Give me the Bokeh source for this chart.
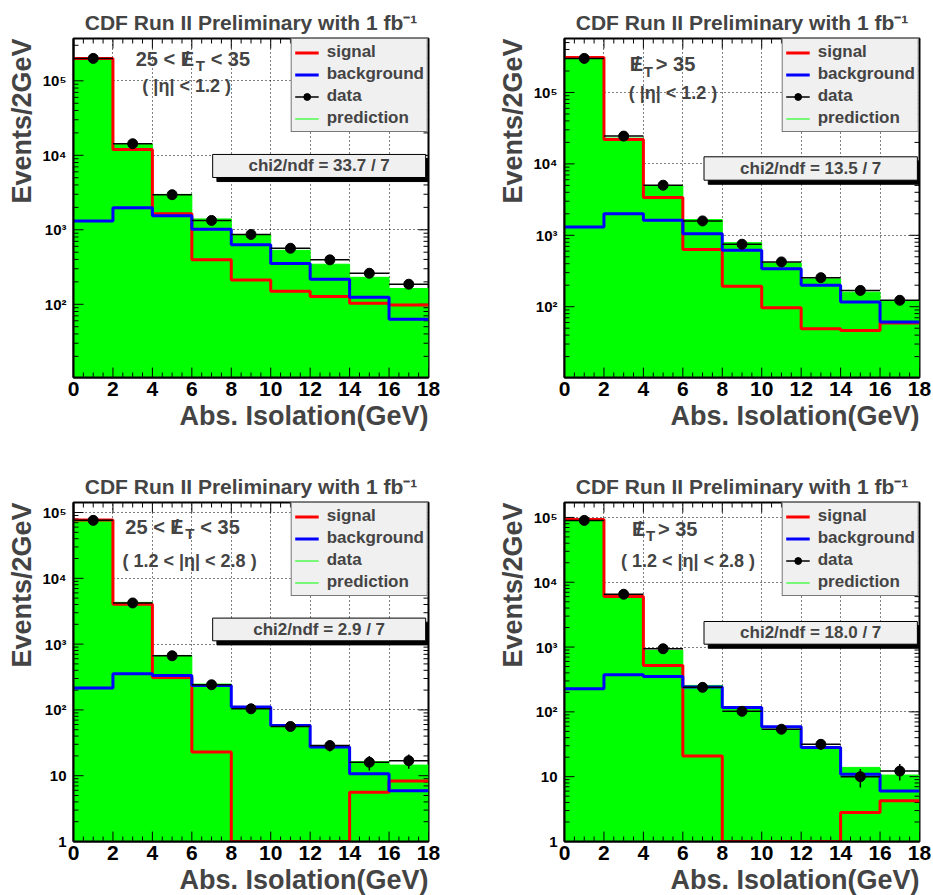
import numpy as np
from bokeh.plotting import figure
from bokeh.models import (LogTicker, SingleIntervalTicker, CustomJSTickFormatter,
                          Legend, LegendItem, Label, Title, Range1d)
from bokeh.layouts import gridplot
from bokeh.embed import file_html
from bokeh.resources import INLINE

# ---------------- data ----------------
bin_left = [0, 2, 4, 6, 8, 10, 12, 14, 16]
bin_width = 2
x_ticks = [0, 2, 4, 6, 8, 10, 12, 14, 16, 18]

# panel 1 : 25 < MET < 35, |eta| < 1.2
sig1 = [2.0e5, 1.2e4, 1640, 395, 212, 150, 127, 103, 98]
bkg1 = [1310, 1980, 1540, 1020, 630, 352, 217, 124, 63]
pred1 = [2.0e5, 1.41e4, 2990, 1400, 860, 530, 345, 230, 163]
data1 = [2.0e5, 1.43e4, 2960, 1335, 866, 565, 395, 261, 186]

# panel 2 : MET > 35, |eta| < 1.2
sig2 = [3.1e5, 2.19e4, 3380, 630, 193, 97, 49, 46.5, 59]
bkg2 = [1310, 2010, 1625, 1050, 617, 341, 199, 116, 61]
pred2 = [3.1e5, 2.3e4, 4900, 1660, 789, 410, 245, 160, 118]
data2 = [3.0e5, 2.45e4, 5030, 1590, 750, 424, 255, 169, 123]

# panel 3 : 25 < MET < 35, 1.2 < |eta| < 2.8
sig3 = [7.7e4, 4030, 312, 23, 0, 0, 0, 5.6, 8.3]
bkg3 = [215, 354, 334, 235, 111, 58, 27.4, 10.7, 5.9]
pred3 = [7.74e4, 4310, 673, 247, 106, 56, 27.7, 16.3, 14.5]
data3 = [7.6e4, 4220, 665, 241, 104, 56, 28.7, 16.0, 16.9]

# panel 4 : MET > 35, 1.2 < |eta| < 2.8
sig4 = [9.3e4, 6010, 521, 20.9, 0, 0, 0, 2.8, 4.25]
bkg4 = [227, 374, 352, 241, 117, 58.7, 28.2, 10.9, 6.0]
pred4 = [9.0e4, 6220, 889, 256, 113, 54, 27.9, 13.9, 10.6]
data4 = [9.0e4, 6530, 942, 239, 102, 54, 31.6, 10, 12.2]

chi2_texts = ["chi2/ndf = 33.7 / 7", "chi2/ndf = 13.5 / 7",
              "chi2/ndf = 2.9 / 7", "chi2/ndf = 18.0 / 7"]
eta_texts = ["( |η| < 1.2 )", "( |η| < 1.2 )",
             "( 1.2 < |η| < 2.8 )", "( 1.2 < |η| < 2.8 )"]
met_low = ["25 < E", "E", "25 < E", "E"]
met_high = ["< 35", "> 35", "< 35", "> 35"]
legend_labels = ["signal", "background", "data", "prediction"]
title_text = "CDF Run II Preliminary with 1 fb⁻¹"
x_title = "Abs. Isolation(GeV)"
y_title = "Events/2GeV"

# ---------------- style ----------------
FONT = "Liberation Sans"
GREEN = "#00ff00"
RED = "#ff0000"
BLUE = "#0000ff"
BOXFILL = "#f0f0f0"
X_MIN, X_MAX = 0, 18
FRAME_W, FRAME_H = 355, 339
TICK_MAJOR, TICK_MINOR = 10, 5

log_fmt = CustomJSTickFormatter(code="""
const e = Math.round(Math.log10(tick));
const sup = {'0':'\u2070','1':'\u00b9','2':'\u00b2','3':'\u00b3','4':'\u2074',
             '5':'\u2075','6':'\u2076','7':'\u2077','8':'\u2078','9':'\u2079'};
if (e == 0) return '1';
if (e == 1) return '10';
return '10' + String(e).split('').map(c => sup[c]).join('');
""")


def draw_inner_ticks(p, ymin, ymax):
    """ROOT-style ticks pointing into the frame on all four sides."""
    lo, hi = np.log10(ymin), np.log10(ymax)
    xspan = X_MAX - X_MIN
    x0, x1, y0, y1 = [], [], [], []
    majors = [float(t) for t in x_ticks]
    minors = [float(v) for v in np.arange(X_MIN, X_MAX + 1e-9, 0.5)
              if float(v) not in majors]
    for xs, ln in ((majors, TICK_MAJOR), (minors, TICK_MINOR)):
        f = 10 ** (ln / FRAME_H * (hi - lo))
        for xv in xs:
            x0 += [xv, xv]
            x1 += [xv, xv]
            y0 += [ymin, ymax]
            y1 += [ymin * f, ymax / f]
    dec = [10.0 ** n for n in range(int(np.ceil(lo - 1e-9)), int(np.floor(hi + 1e-9)) + 1)]
    minor_y = []
    for n in range(int(np.floor(lo)), int(np.floor(hi)) + 1):
        for k in range(2, 10):
            v = k * 10.0 ** n
            if ymin < v < ymax:
                minor_y.append(v)
    for ys, ln in ((dec, TICK_MAJOR), (minor_y, TICK_MINOR)):
        dx = ln / FRAME_W * xspan
        for yv in ys:
            x0 += [X_MIN, X_MAX]
            x1 += [X_MIN + dx, X_MAX - dx]
            y0 += [yv, yv]
            y1 += [yv, yv]
    p.segment(x0=x0, x1=x1, y0=y0, y1=y1, line_color="black", line_width=1)


def make_panel(idx, sig, bkg, pred, data, ymin, ymax, geom, pos):
    width, height, bl, br, bt, bb = geom
    p = figure(width=width, height=height, y_axis_type="log",
               x_range=Range1d(X_MIN, X_MAX), y_range=Range1d(ymin, ymax),
               output_backend="svg", toolbar_location=None,
               min_border_left=bl, min_border_right=br,
               min_border_top=bt, min_border_bottom=bb,
               title=title_text)
    p.title.align = "center"
    p.title.text_font = FONT
    p.title.text_font_style = "bold"
    p.title.text_font_size = "21px"
    p.title.standoff = 9
    p.background_fill_color = "white"
    p.border_fill_color = "white"
    p.outline_line_color = "black"
    p.outline_line_width = 2

    lo, hi = np.log10(ymin), np.log10(ymax)

    def fxd(f):
        return float(X_MIN + f * (X_MAX - X_MIN))

    def fyd(f):
        return float(10 ** (lo + f * (hi - lo)))

    left = np.array(bin_left, dtype=float)
    right = left + bin_width
    centers = left + bin_width / 2
    edges = np.append(left, right[-1])

    def stepy(v):
        v = np.maximum(np.array(v, dtype=float), ymin)
        return np.append(v, v[-1])

    p.varea_step(x=edges, y1=np.full(len(edges), float(ymin)), y2=stepy(pred),
                 step_mode="after", fill_color=GREEN)
    r_pred = p.step(x=edges, y=stepy(pred), mode="after",
                    line_color=GREEN, line_width=1)
    draw_inner_ticks(p, ymin, ymax)
    r_sig = p.step(x=edges, y=stepy(sig), mode="after",
                   line_color=RED, line_width=3)
    r_bkg = p.step(x=edges, y=stepy(bkg), mode="after",
                   line_color=BLUE, line_width=3)
    d = np.array(data, dtype=float)
    err = np.sqrt(d)
    r_dh = p.segment(x0=left, x1=right, y0=d, y1=d,
                     line_color="black", line_width=1.5)
    p.segment(x0=centers, x1=centers, y0=d - err, y1=d + err,
              line_color="black", line_width=1.5)
    r_dm = p.scatter(x=centers, y=d, size=10, marker="circle",
                     fill_color="black", line_color="black")

    p.xaxis.ticker = SingleIntervalTicker(interval=2, num_minor_ticks=4)
    p.yaxis.ticker = LogTicker(mantissas=[1], num_minor_ticks=10)
    p.yaxis.formatter = log_fmt
    for ax in (p.xaxis[0], p.yaxis[0]):
        ax.axis_line_width = 2
        ax.axis_line_color = "black"
        ax.major_tick_in = 0
        ax.major_tick_out = 0
        ax.minor_tick_in = 0
        ax.minor_tick_out = 0
        ax.major_tick_line_color = None
        ax.minor_tick_line_color = None
        ax.major_label_text_font = FONT
        ax.major_label_text_font_style = "bold"
        ax.major_label_text_color = "black"
    p.xaxis.major_label_text_font_size = "21px"
    p.xaxis.major_label_standoff = 4
    p.yaxis.major_label_text_font_size = "15px"
    p.yaxis.major_label_standoff = 7

    p.xgrid.grid_line_color = "black"
    p.xgrid.grid_line_dash = "1 3"
    p.xgrid.grid_line_width = 1
    p.ygrid.grid_line_color = "black"
    p.ygrid.grid_line_dash = "1 3"
    p.ygrid.grid_line_width = 1

    p.add_layout(Title(text=x_title, align="right", text_font=FONT,
                       text_font_style="bold", text_font_size="27px",
                       standoff=0), "below")
    p.add_layout(Title(text=y_title, align="right", text_font=FONT,
                       text_font_style="bold", text_font_size="27px",
                       standoff=5), "left")

    data_renderers = [r_pred] if idx == 2 else [r_dh, r_dm]
    items = [LegendItem(label=legend_labels[0], renderers=[r_sig]),
             LegendItem(label=legend_labels[1], renderers=[r_bkg]),
             LegendItem(label=legend_labels[2], renderers=data_renderers),
             LegendItem(label=legend_labels[3], renderers=[r_pred])]
    leg = Legend(items=items, location="top_right", margin=0, padding=3,
                 spacing=2, glyph_width=24, glyph_height=17, label_height=17,
                 label_standoff=8, label_text_font=FONT,
                 label_text_font_style="bold", label_text_font_size="17px",
                 background_fill_color=BOXFILL, background_fill_alpha=1,
                 border_line_color="black", border_line_width=1)
    p.add_layout(leg)

    cx0, cx1, cy0, cy1 = pos["chi2"]
    sdx, sdy = 0.012, 0.012
    p.quad(left=[fxd(cx0 + sdx)], right=[fxd(cx1 + sdx)],
           bottom=[fyd(cy0 - sdy)], top=[fyd(cy1 - sdy)],
           fill_color="black", line_color="black")
    p.quad(left=[fxd(cx0)], right=[fxd(cx1)],
           bottom=[fyd(cy0)], top=[fyd(cy1)],
           fill_color=BOXFILL, line_color="black", line_width=1)
    p.add_layout(Label(x=fxd((cx0 + cx1) / 2), y=fyd((cy0 + cy1) / 2),
                       text=chi2_texts[idx], text_align="center",
                       text_baseline="middle", text_font=FONT,
                       text_font_style="bold", text_font_size="17px"))

    mx, my = pos["met"]
    e_mid, t_off, hi_off = pos["met_off"]
    common = dict(x=fxd(mx), y=fyd(my), text_baseline="middle",
                  text_font=FONT, text_font_style="bold")
    p.add_layout(Label(text=met_low[idx], text_align="left",
                       text_font_size="20px", **common))
    p.add_layout(Label(text="/", text_align="center", x_offset=e_mid,
                       text_font_size="20px", **common))
    p.add_layout(Label(text="T", text_align="left", x_offset=t_off,
                       y_offset=-7, text_font_size="15px", **common))
    p.add_layout(Label(text=met_high[idx], text_align="left",
                       x_offset=hi_off, text_font_size="20px", **common))
    ex, ey = pos["eta"]
    p.add_layout(Label(x=fxd(ex), y=fyd(ey), text=eta_texts[idx],
                       text_align="left", text_baseline="middle",
                       text_font=FONT, text_font_style="bold",
                       text_font_size="18px"))
    return p


pos1 = {"chi2": (0.392, 0.992, 0.590, 0.658), "met": (0.175, 0.941),
        "met_off": (51, 60, 75), "eta": (0.194, 0.861)}
pos2 = {"chi2": (0.393, 0.994, 0.582, 0.651), "met": (0.184, 0.924),
        "met_off": (7, 14, 26), "eta": (0.181, 0.839)}
pos3 = {"chi2": (0.392, 0.992, 0.592, 0.659), "met": (0.146, 0.928),
        "met_off": (51, 60, 75), "eta": (0.138, 0.828)}
pos4 = {"chi2": (0.393, 0.994, 0.582, 0.649), "met": (0.19, 0.922),
        "met_off": (7, 14, 26), "eta": (0.159, 0.828)}

p1 = make_panel(0, sig1, bkg1, pred1, data1, 10.4, 3.7e5,
                (466, 447, 73, 38, 38, 70), pos1)
p2 = make_panel(1, sig2, bkg2, pred2, data2, 10.2, 5.7e5,
                (467, 447, 98, 14, 38, 70), pos2)
p3 = make_panel(2, sig3, bkg3, pred3, data3, 1, 1.42e5,
                (466, 448, 73, 38, 55, 54), pos3)
p4 = make_panel(3, sig4, bkg4, pred4, data4, 1, 1.7e5,
                (467, 448, 98, 14, 55, 54), pos4)

grid = gridplot([[p1, p2], [p3, p4]], toolbar_location=None)
with open("out.html", "w", encoding="utf-8") as f:
    f.write(file_html(grid, INLINE))
